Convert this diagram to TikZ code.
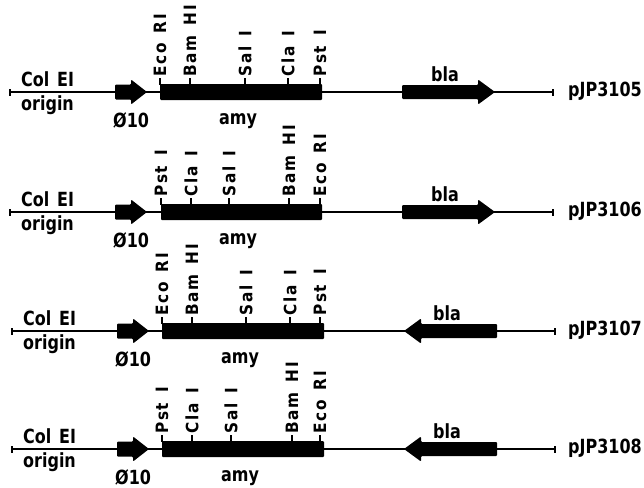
\documentclass[tikz,border=0pt]{standalone}
\usepackage{fontspec}
\setmainfont{DejaVu Sans}[BoldFeatures={FakeStretch=0.82}]
\newfontfamily\sitefont{DejaVu Sans}[BoldFeatures={FakeStretch=0.9,LetterSpace=9}]
\newcommand\wgap{\hspace{0.6em}}
\tikzset{
  backbone/.style={line width=1.5pt},
  lbl/.style={font=\fontsize{19.5}{21}\selectfont\bfseries, inner sep=0pt},
  site/.style={font=\sitefont\fontsize{17}{19}\selectfont\bfseries, inner sep=0pt, rotate=90, anchor=west, inner xsep=1pt},
  sitetick/.style={line width=1.3pt},
  feat/.style={fill=black, rounded corners=1pt},
}
% #1 y0, #2 dx, #3 id, #4 sites (x/label), #5 bla direction (1 or -1), #6 bla centre, #7 name
\newcommand\plasmid[7]{%
  \begin{scope}[shift={(#2,#1)}]
    \coordinate (L#3) at (10,0);
    \coordinate (R#3) at (553,0);
    \draw[backbone] (L#3) -- (R#3);
    \draw[backbone] ([yshift=-3.5pt]L#3) -- ([yshift=3.5pt]L#3);
    \draw[backbone] ([yshift=-3.5pt]R#3) -- ([yshift=3.5pt]R#3);
    % phi10 promoter arrow
    \fill[feat] (115,-7.5) -- (131,-7.5) -- (131,-12.5) -- (147,0) -- (131,12.5) -- (131,7.5) -- (115,7.5) -- cycle;
    % amy box and restriction sites
    \foreach \x/\t [count=\i] in {#4} {
      \ifnum\i=1 \fill[feat] (\x,-8) rectangle (322,8); \fi
      \draw[sitetick] (\x,-7) -- (\x,-14) node[site] (s#3-\i) {\t};
    }
    % bla arrow
    \begin{scope}[shift={(#6,0)}, xscale=#5]
      \fill[feat] (-46.5,-7) -- (29.5,-7) -- (29.5,-12.5) -- (46.5,0) -- (29.5,12.5) -- (29.5,7) -- (-46.5,7) -- cycle;
    \end{scope}
    % labels
    \node[lbl, anchor=base west] (col#3) at (21,-6) {Col\hspace{0.4em}EI};
    \node[lbl, anchor=base west] (ori#3) at (21,18) {origin};
    \node[lbl, anchor=base west] (phi#3) at (113,35) {Ø10};
    \node[lbl, anchor=base] (amy#3) at (238,32) {amy};
    \node[lbl, anchor=base] (bla#3) at (445,-11) {bla};
  \end{scope}
  \node[lbl, anchor=base east] (name#3) at (642,#1+4) {#7};
}
\begin{document}
\begin{tikzpicture}[x=1pt,y=-1pt]
  \useasboundingbox (0,0) rectangle (644,487);
  \plasmid{92}{0}{a}{160/Eco\wgap RI,190/Bam\wgap HI,245/Sal\wgap I,288/Cla\wgap I,320/Pst\wgap I}{1}{448.5}{pJP3105}
  \plasmid{212}{0}{b}{161/Pst\wgap I,191/Cla\wgap I,229/Sal\wgap I,289/Bam\wgap HI,320/Eco\wgap RI}{1}{448.5}{pJP3106}
  \plasmid{331}{2}{c}{160/Eco\wgap RI,190/Bam\wgap HI,244/Sal\wgap I,288/Cla\wgap I,318/Pst\wgap I}{-1}{448.5}{pJP3107}
  \plasmid{449}{2}{d}{160/Pst\wgap I,190/Cla\wgap I,229/Sal\wgap I,290/Bam\wgap HI,318/Eco\wgap RI}{-1}{448.5}{pJP3108}
\end{tikzpicture}
\end{document}
